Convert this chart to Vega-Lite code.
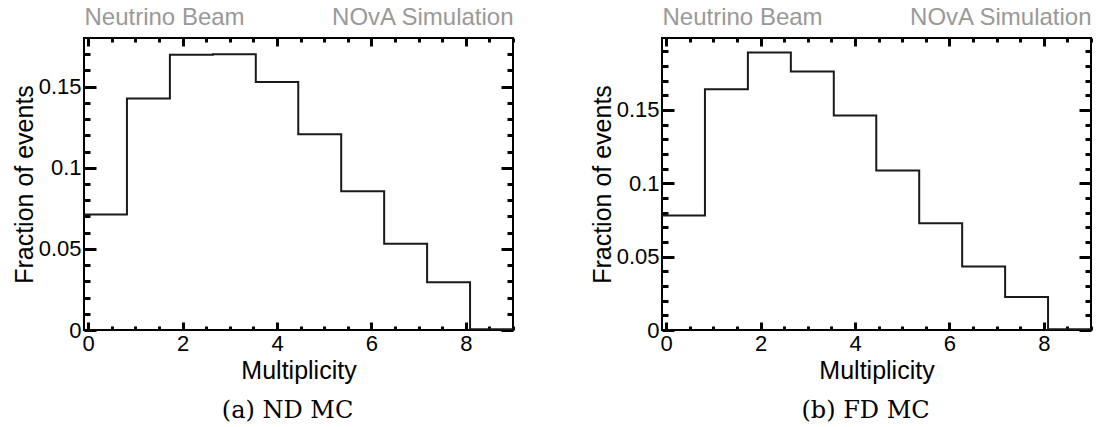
{
  "$schema": "https://vega.github.io/schema/vega-lite/v6.json",
  "background": "white",
  "padding": {"left": 11, "top": 4, "right": 0, "bottom": 0},
  "spacing": 73,
  "datasets": {
    "nd": [
      {"lo": -0.09, "frac": 0.0712},
      {"lo": 0.82, "frac": 0.1427},
      {"lo": 1.73, "frac": 0.1696},
      {"lo": 2.64, "frac": 0.1700},
      {"lo": 3.55, "frac": 0.1529},
      {"lo": 4.45, "frac": 0.1207},
      {"lo": 5.36, "frac": 0.0855},
      {"lo": 6.27, "frac": 0.0531},
      {"lo": 7.18, "frac": 0.0295},
      {"lo": 8.09, "frac": 0.0005},
      {"lo": 9.0, "frac": 0.0005}
    ],
    "fd": [
      {"lo": -0.09, "frac": 0.0780},
      {"lo": 0.82, "frac": 0.1641},
      {"lo": 1.73, "frac": 0.1891},
      {"lo": 2.64, "frac": 0.1762},
      {"lo": 3.55, "frac": 0.1462},
      {"lo": 4.45, "frac": 0.1087},
      {"lo": 5.36, "frac": 0.0727},
      {"lo": 6.27, "frac": 0.0432},
      {"lo": 7.18, "frac": 0.0225},
      {"lo": 8.09, "frac": 0.0005},
      {"lo": 9.0, "frac": 0.0005}
    ]
  },
  "hconcat": [
    {
      "width": 429,
      "height": 292,
      "data": {"name": "nd"},
      "title": {"text": "(a) ND MC", "orient": "bottom", "anchor": "middle", "frame": "group", "font": "DejaVu Serif", "fontSize": 24, "fontWeight": "normal", "color": "black", "offset": 16, "dx": -11},
      "layer": [
        {
          "mark": {"type": "line", "interpolate": "step-after", "color": "#1a1a1a", "strokeWidth": 2, "clip": true},
          "encoding": {
            "x": {"field": "lo", "type": "quantitative", "scale": {"domain": [-0.09, 9], "nice": false, "zero": false},
                  "axis": {"orient": "bottom", "values": [0, 2, 4, 6, 8], "tickColor": "black", "tickWidth": 3, "offset": -8, "tickSize": 8, "format": "~g", "title": "Multiplicity", "titlePadding": 4}},
            "y": {"field": "frac", "type": "quantitative", "scale": {"domain": [0, 0.18], "nice": false, "zero": false},
                  "axis": {"orient": "left", "values": [0, 0.05, 0.1, 0.15], "tickColor": "black", "tickWidth": 3, "offset": -12, "tickSize": 12, "format": "~g", "title": "Fraction of events", "titlePadding": 1}}
          }
        },
        {
          "mark": {"type": "line", "strokeOpacity": 0, "clip": true},
          "encoding": {
            "x": {"field": "lo", "type": "quantitative", "scale": {"domain": [-0.09, 9], "nice": false, "zero": false},
                  "axis": {"orient": "top", "values": [0, 2, 4, 6, 8], "tickColor": "black", "tickWidth": 3, "offset": -8, "tickSize": 8, "labels": false, "title": "NOvA Simulation", "titleAnchor": "end", "titleColor": "#999999", "titleFontSize": 24, "titlePadding": 7}},
            "y": {"field": "frac", "type": "quantitative", "scale": {"domain": [0, 0.18], "nice": false, "zero": false},
                  "axis": {"orient": "right", "values": [0, 0.05, 0.1, 0.15], "tickColor": "black", "tickWidth": 3, "offset": -12, "tickSize": 12, "labels": false, "title": null}}
          }
        },
        {
          "mark": {"type": "line", "strokeOpacity": 0, "clip": true},
          "encoding": {
            "x": {"field": "lo", "type": "quantitative", "scale": {"domain": [-0.09, 9], "nice": false, "zero": false},
                  "axis": {"orient": "bottom", "values": [0, 0.5, 1, 1.5, 2, 2.5, 3, 3.5, 4, 4.5, 5, 5.5, 6, 6.5, 7, 7.5, 8, 8.5, 9], "tickColor": "black", "tickWidth": 3, "offset": -4, "tickSize": 4, "labels": false, "title": null}},
            "y": {"field": "frac", "type": "quantitative", "scale": {"domain": [0, 0.18], "nice": false, "zero": false},
                  "axis": {"orient": "left", "values": [0.01, 0.02, 0.03, 0.04, 0.05, 0.06, 0.07, 0.08, 0.09, 0.1, 0.11, 0.12, 0.13, 0.14, 0.15, 0.16, 0.17], "tickColor": "black", "tickWidth": 3, "offset": -6, "tickSize": 6, "labels": false, "title": null}}
          }
        },
        {
          "mark": {"type": "line", "strokeOpacity": 0, "clip": true},
          "encoding": {
            "x": {"field": "lo", "type": "quantitative", "scale": {"domain": [-0.09, 9], "nice": false, "zero": false},
                  "axis": {"orient": "top", "values": [0, 0.5, 1, 1.5, 2, 2.5, 3, 3.5, 4, 4.5, 5, 5.5, 6, 6.5, 7, 7.5, 8, 8.5, 9], "tickColor": "black", "tickWidth": 3, "offset": -4, "tickSize": 4, "labels": false, "title": "Neutrino Beam", "titleAnchor": "start", "titleColor": "#999999", "titleFontSize": 24, "titlePadding": 7}},
            "y": {"field": "frac", "type": "quantitative", "scale": {"domain": [0, 0.18], "nice": false, "zero": false},
                  "axis": {"orient": "right", "values": [0.01, 0.02, 0.03, 0.04, 0.05, 0.06, 0.07, 0.08, 0.09, 0.1, 0.11, 0.12, 0.13, 0.14, 0.15, 0.16, 0.17], "tickColor": "black", "tickWidth": 3, "offset": -6, "tickSize": 6, "labels": false, "title": null}}
          }
        }
      ],
      "resolve": {"axis": {"x": "independent", "y": "independent"}}
    },
    {
      "width": 429,
      "height": 292,
      "data": {"name": "fd"},
      "title": {"text": "(b) FD MC", "orient": "bottom", "anchor": "middle", "frame": "group", "font": "DejaVu Serif", "fontSize": 24, "fontWeight": "normal", "color": "black", "offset": 16, "dx": -11},
      "layer": [
        {
          "mark": {"type": "line", "interpolate": "step-after", "color": "#1a1a1a", "strokeWidth": 2, "clip": true},
          "encoding": {
            "x": {"field": "lo", "type": "quantitative", "scale": {"domain": [-0.09, 9], "nice": false, "zero": false},
                  "axis": {"orient": "bottom", "values": [0, 2, 4, 6, 8], "tickColor": "black", "tickWidth": 3, "offset": -8, "tickSize": 8, "format": "~g", "title": "Multiplicity", "titlePadding": 4}},
            "y": {"field": "frac", "type": "quantitative", "scale": {"domain": [0, 0.199], "nice": false, "zero": false},
                  "axis": {"orient": "left", "values": [0, 0.05, 0.1, 0.15], "tickColor": "black", "tickWidth": 3, "offset": -12, "tickSize": 12, "format": "~g", "title": "Fraction of events", "titlePadding": 1}}
          }
        },
        {
          "mark": {"type": "line", "strokeOpacity": 0, "clip": true},
          "encoding": {
            "x": {"field": "lo", "type": "quantitative", "scale": {"domain": [-0.09, 9], "nice": false, "zero": false},
                  "axis": {"orient": "top", "values": [0, 2, 4, 6, 8], "tickColor": "black", "tickWidth": 3, "offset": -8, "tickSize": 8, "labels": false, "title": "NOvA Simulation", "titleAnchor": "end", "titleColor": "#999999", "titleFontSize": 24, "titlePadding": 7}},
            "y": {"field": "frac", "type": "quantitative", "scale": {"domain": [0, 0.199], "nice": false, "zero": false},
                  "axis": {"orient": "right", "values": [0, 0.05, 0.1, 0.15], "tickColor": "black", "tickWidth": 3, "offset": -12, "tickSize": 12, "labels": false, "title": null}}
          }
        },
        {
          "mark": {"type": "line", "strokeOpacity": 0, "clip": true},
          "encoding": {
            "x": {"field": "lo", "type": "quantitative", "scale": {"domain": [-0.09, 9], "nice": false, "zero": false},
                  "axis": {"orient": "bottom", "values": [0, 0.5, 1, 1.5, 2, 2.5, 3, 3.5, 4, 4.5, 5, 5.5, 6, 6.5, 7, 7.5, 8, 8.5, 9], "tickColor": "black", "tickWidth": 3, "offset": -4, "tickSize": 4, "labels": false, "title": null}},
            "y": {"field": "frac", "type": "quantitative", "scale": {"domain": [0, 0.199], "nice": false, "zero": false},
                  "axis": {"orient": "left", "values": [0.01, 0.02, 0.03, 0.04, 0.05, 0.06, 0.07, 0.08, 0.09, 0.1, 0.11, 0.12, 0.13, 0.14, 0.15, 0.16, 0.17, 0.18, 0.19], "tickColor": "black", "tickWidth": 3, "offset": -6, "tickSize": 6, "labels": false, "title": null}}
          }
        },
        {
          "mark": {"type": "line", "strokeOpacity": 0, "clip": true},
          "encoding": {
            "x": {"field": "lo", "type": "quantitative", "scale": {"domain": [-0.09, 9], "nice": false, "zero": false},
                  "axis": {"orient": "top", "values": [0, 0.5, 1, 1.5, 2, 2.5, 3, 3.5, 4, 4.5, 5, 5.5, 6, 6.5, 7, 7.5, 8, 8.5, 9], "tickColor": "black", "tickWidth": 3, "offset": -4, "tickSize": 4, "labels": false, "title": "Neutrino Beam", "titleAnchor": "start", "titleColor": "#999999", "titleFontSize": 24, "titlePadding": 7}},
            "y": {"field": "frac", "type": "quantitative", "scale": {"domain": [0, 0.199], "nice": false, "zero": false},
                  "axis": {"orient": "right", "values": [0.01, 0.02, 0.03, 0.04, 0.05, 0.06, 0.07, 0.08, 0.09, 0.1, 0.11, 0.12, 0.13, 0.14, 0.15, 0.16, 0.17, 0.18, 0.19], "tickColor": "black", "tickWidth": 3, "offset": -6, "tickSize": 6, "labels": false, "title": null}}
          }
        }
      ],
      "resolve": {"axis": {"x": "independent", "y": "independent"}}
    }
  ],
  "config": {
    "view": {"stroke": "black", "strokeWidth": 2},
    "axis": {
      "domain": false,
      "grid": false,
      "ticks": true,
      "zindex": 1,
      "labelFont": "Liberation Sans",
      "labelFontSize": 22,
      "labelColor": "black",
      "labelPadding": 3,
      "titleFont": "Liberation Sans",
      "titleFontSize": 25,
      "titleFontWeight": "normal",
      "titleColor": "black"
    }
  }
}
